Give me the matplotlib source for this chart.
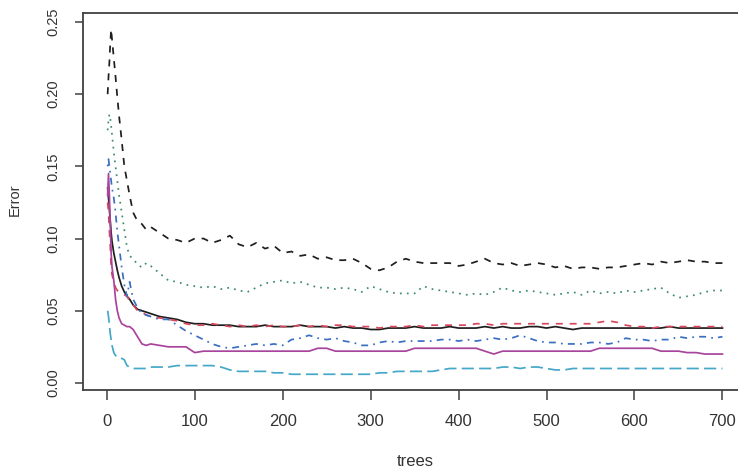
import numpy as np
import matplotlib
matplotlib.use('Agg')
import matplotlib.pyplot as plt

plt.rcParams['font.family'] = ['Liberation Sans', 'DejaVu Sans']

trees = [1, 2, 3, 4, 5, 6, 8, 10, 12, 14, 17, 20, 23, 26, 30, 35, 40, 45, 50,
         60, 70, 80, 90, 100] + list(range(110, 701, 10))

# OOB error (black solid)
oob = [0.135, 0.128, 0.120, 0.112, 0.104, 0.098, 0.090, 0.084, 0.078, 0.073, 0.067, 0.063,
       0.060, 0.058, 0.054, 0.051, 0.050, 0.049, 0.048, 0.046, 0.045, 0.044, 0.042, 0.041,
       0.041, 0.040, 0.040, 0.040, 0.039, 0.039, 0.039, 0.040, 0.039, 0.039,
       0.039, 0.040, 0.039, 0.039, 0.039, 0.038, 0.039, 0.038, 0.038, 0.037,
       0.037, 0.038, 0.038, 0.038, 0.039, 0.038, 0.038, 0.038, 0.039, 0.038,
       0.038, 0.038, 0.039, 0.038, 0.039, 0.038, 0.038, 0.039, 0.039, 0.038,
       0.039, 0.038, 0.037, 0.038, 0.038, 0.038, 0.038, 0.038, 0.038, 0.038,
       0.038, 0.038, 0.038, 0.039, 0.038, 0.038, 0.038, 0.038, 0.038, 0.038]

# class error rates
cls1 = [0.125, 0.118, 0.105, 0.095, 0.080, 0.075, 0.070, 0.066, 0.064, 0.063, 0.062, 0.061,
        0.060, 0.057, 0.054, 0.050, 0.049, 0.047, 0.046, 0.045, 0.044, 0.043, 0.041, 0.040,
        0.040, 0.041, 0.040, 0.039, 0.040, 0.039, 0.040, 0.039, 0.040, 0.039,
        0.039, 0.040, 0.039, 0.040, 0.039, 0.040, 0.040, 0.039, 0.039, 0.039,
        0.038, 0.039, 0.039, 0.039, 0.040, 0.039, 0.040, 0.040, 0.040, 0.040,
        0.040, 0.041, 0.041, 0.040, 0.041, 0.041, 0.041, 0.041, 0.041, 0.041,
        0.041, 0.041, 0.041, 0.041, 0.041, 0.042, 0.043, 0.042, 0.040, 0.039,
        0.039, 0.038, 0.039, 0.039, 0.039, 0.039, 0.039, 0.039, 0.039, 0.039]

cls2 = [0.175, 0.182, 0.186, 0.183, 0.178, 0.172, 0.160, 0.150, 0.140, 0.130, 0.118, 0.106,
        0.094, 0.088, 0.086, 0.082, 0.080, 0.083, 0.081, 0.076, 0.071, 0.070, 0.068, 0.067,
        0.066, 0.067, 0.065, 0.066, 0.064, 0.063, 0.066, 0.069, 0.070, 0.071,
        0.069, 0.070, 0.068, 0.066, 0.066, 0.065, 0.066, 0.065, 0.063, 0.067,
        0.065, 0.063, 0.062, 0.062, 0.062, 0.067, 0.065, 0.064, 0.063, 0.062,
        0.061, 0.062, 0.061, 0.063, 0.066, 0.064, 0.063, 0.064, 0.063, 0.062,
        0.061, 0.062, 0.063, 0.061, 0.064, 0.062, 0.063, 0.062, 0.064, 0.063,
        0.064, 0.065, 0.066, 0.062, 0.059, 0.060, 0.061, 0.063, 0.064, 0.064]

cls3 = [0.150, 0.155, 0.150, 0.145, 0.140, 0.135, 0.128, 0.118, 0.105, 0.095, 0.080, 0.068,
        0.060, 0.070, 0.058, 0.052, 0.048, 0.047, 0.046, 0.044, 0.044, 0.040, 0.036, 0.033,
        0.030, 0.027, 0.025, 0.024, 0.025, 0.026, 0.027, 0.026, 0.027, 0.026,
        0.030, 0.031, 0.033, 0.031, 0.030, 0.031, 0.029, 0.028, 0.026, 0.026,
        0.028, 0.029, 0.028, 0.029, 0.029, 0.029, 0.029, 0.030, 0.030, 0.029,
        0.030, 0.029, 0.030, 0.031, 0.030, 0.031, 0.033, 0.031, 0.029, 0.028,
        0.028, 0.027, 0.027, 0.027, 0.028, 0.028, 0.027, 0.028, 0.031, 0.030,
        0.030, 0.029, 0.030, 0.030, 0.032, 0.031, 0.032, 0.032, 0.031, 0.032]

cls4 = [0.050, 0.046, 0.040, 0.034, 0.030, 0.026, 0.021, 0.019, 0.018, 0.018, 0.017, 0.016,
        0.012, 0.011, 0.010, 0.010, 0.010, 0.010, 0.011, 0.011, 0.011, 0.012, 0.012, 0.012,
        0.012, 0.012, 0.011, 0.009, 0.008, 0.008, 0.008, 0.008, 0.007, 0.007,
        0.006, 0.006, 0.006, 0.006, 0.006, 0.006, 0.006, 0.006, 0.006, 0.006,
        0.007, 0.007, 0.008, 0.008, 0.008, 0.008, 0.008, 0.009, 0.010, 0.010,
        0.010, 0.010, 0.010, 0.010, 0.011, 0.011, 0.010, 0.011, 0.011, 0.010,
        0.009, 0.009, 0.010, 0.010, 0.010, 0.010, 0.010, 0.010, 0.010, 0.010,
        0.010, 0.010, 0.010, 0.010, 0.010, 0.010, 0.010, 0.010, 0.010, 0.010]

cls5 = [0.130, 0.145, 0.130, 0.110, 0.090, 0.080, 0.071, 0.058, 0.050, 0.045, 0.041, 0.040,
        0.039, 0.039, 0.037, 0.032, 0.027, 0.026, 0.027, 0.026, 0.025, 0.025, 0.025, 0.021,
        0.022, 0.022, 0.022, 0.022, 0.022, 0.022, 0.022, 0.022, 0.022, 0.022,
        0.022, 0.022, 0.022, 0.024, 0.024, 0.022, 0.022, 0.022, 0.022, 0.022,
        0.022, 0.022, 0.022, 0.022, 0.024, 0.024, 0.024, 0.024, 0.024, 0.024,
        0.024, 0.024, 0.022, 0.020, 0.022, 0.022, 0.022, 0.022, 0.022, 0.022,
        0.022, 0.022, 0.022, 0.022, 0.022, 0.024, 0.024, 0.024, 0.024, 0.024,
        0.024, 0.024, 0.022, 0.022, 0.022, 0.021, 0.021, 0.020, 0.020, 0.020]

cls6 = [0.200, 0.212, 0.222, 0.235, 0.245, 0.238, 0.225, 0.212, 0.198, 0.185, 0.168, 0.150,
        0.140, 0.130, 0.118, 0.112, 0.110, 0.106, 0.108, 0.104, 0.100, 0.099, 0.097, 0.100,
        0.100, 0.097, 0.099, 0.102, 0.096, 0.094, 0.097, 0.093, 0.095, 0.090,
        0.091, 0.088, 0.089, 0.086, 0.087, 0.085, 0.085, 0.086, 0.083, 0.079,
        0.078, 0.080, 0.084, 0.086, 0.084, 0.083, 0.083, 0.083, 0.083, 0.081,
        0.082, 0.084, 0.086, 0.083, 0.082, 0.083, 0.081, 0.082, 0.083, 0.082,
        0.080, 0.081, 0.079, 0.080, 0.080, 0.079, 0.080, 0.080, 0.081, 0.082,
        0.083, 0.082, 0.084, 0.083, 0.084, 0.085, 0.084, 0.084, 0.083, 0.083]

series = [oob, cls1, cls2, cls3, cls4, cls5, cls6]
colors = ['#1e1e1e', '#d8485c', '#3b8c68', '#3a6fc2', '#45a8c8', '#a8449c', '#1e1e1e']
# R lty 1..5 cycling: solid, dashed, dotted, dotdash, longdash
dashes = [None, (4, 4), (1, 3), (1, 3, 4, 3), (7, 3), None, (4, 4)]

fig = plt.figure(figsize=(7.38, 4.71), dpi=100)
ax = fig.add_axes([83 / 738, 1 - 390 / 471, 672 / 738, 377 / 471])

for y, c, d in zip(series, colors, dashes):
    line, = ax.plot(trees, y, color=c, lw=1.25)
    if d is not None:
        line.set_dashes(d)

ax.set_xlim(-27, 737)
ax.set_ylim(-0.0049, 0.2562)
ax.set_xticks([0, 100, 200, 300, 400, 500, 600, 700])
ax.set_yticks([0.00, 0.05, 0.10, 0.15, 0.20, 0.25])
ax.set_yticklabels(['0.00', '0.05', '0.10', '0.15', '0.20', '0.25'],
                   rotation=90, va='center')

for s in ax.spines.values():
    s.set_color('#404040')
    s.set_linewidth(1.3)

ax.tick_params(axis='x', length=7, width=1.1, color='#404040', pad=10,
               labelsize=12, labelcolor='#333333')
ax.tick_params(axis='y', length=6, width=1.1, color='#404040', pad=10,
               labelsize=10.5, labelcolor='#333333')

fig.text(15 / 738, 1 - 200 / 471, 'Error', rotation=90, ha='center', va='center',
         fontsize=10.5, color='#333333')
fig.text(415 / 738, 1 - 462 / 471, 'trees', ha='center', va='center',
         fontsize=12, color='#333333')

fig.savefig('out.png', dpi=100)
